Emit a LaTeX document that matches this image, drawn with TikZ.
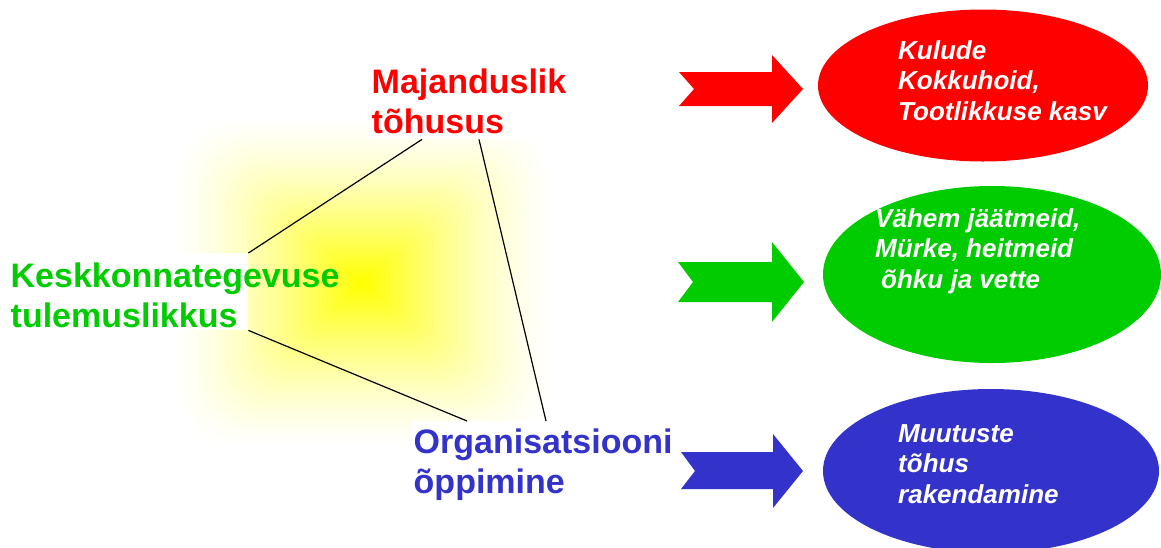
\documentclass[tikz,border=0pt]{standalone}
\usepackage{fontspec}
\setmainfont{Liberation Sans}
\usetikzlibrary{shapes.geometric,calc}
\definecolor{cred}{HTML}{FF0000}
\definecolor{cgreen}{HTML}{00CC00}
\definecolor{cblue}{HTML}{3333CC}
\definecolor{cyel}{HTML}{FFFF00}
\begin{document}
\begin{tikzpicture}[x=1pt,y=-1pt,
  biglabel/.style={anchor=north west, inner sep=0pt, align=left, font=\fontsize{34}{40}\selectfont\bfseries},
  ovaltext/.style={anchor=north west, inner sep=0pt, align=left, text=white, font=\fontsize{26}{30.5}\selectfont\bfseries\itshape},
  oval/.style={ellipse, inner sep=0pt, draw=none},
  mask/.style={fill=white, inner sep=0pt, draw=none, anchor=north west},
  link/.style={draw=black, line width=1.2pt}
]
\useasboundingbox (0,0) rectangle (1161,547);
\fill[white] (0,0) rectangle (1161,547);
% soft yellow glow (rectangular path gradient, drawn outside-in)
\foreach \i in {80,79,...,1}{
  \pgfmathsetmacro\f{\i/80}
  \pgfmathsetmacro\p{100*(1-(\i-0.5)/80)^1.4}
  \pgfmathsetmacro\rc{60*\f+0.01}
  \fill[cyel!\p!white, rounded corners=\rc pt] (363-190*\f,283-166*\f) rectangle (363+190*\f,283+166*\f);
}
% white label backgrounds
\node[mask, minimum width=248pt, minimum height=77pt] (kbox) at (0,253) {};
\node[mask, minimum width=167pt, minimum height=79pt] (mbox) at (370,60) {};
\node[mask, minimum width=268pt, minimum height=84pt] (obox) at (412,421) {};
% triangle links
\draw[link] (kbox.north east) -- ($(mbox.south west)+(52,0)$);
\draw[link] ($(mbox.south west)+(109,0)$) -- ($(obox.north west)+(134,0)$);
\draw[link] (kbox.south east) -- ($(obox.north west)+(55,0)$);
% labels
\node[biglabel, text=cred] (maj) at (371.5,68.4) {Majanduslik\\tõhusus};
\node[biglabel, text=cgreen] (kesk) at (10.5,262.7) {Keskkonnategevuse\\tulemuslikkus};
\node[biglabel, text=cblue] (org) at (413.5,428.7) {Organisatsiooni\\õppimine};
% block arrows
\fill[cred] (679,72) -- (772,72) -- (772,55) -- (803,89) -- (772,123) -- (772,106) -- (679,106) -- (694,89) -- cycle;
\fill[cgreen] (678,262) -- (772,262) -- (772,242) -- (804,282) -- (772,322) -- (772,302) -- (678,302) -- (693,282) -- cycle;
\fill[cblue] (681,452) -- (773,452) -- (773,434) -- (803,471) -- (773,508) -- (773,489) -- (681,489) -- (695,471) -- cycle;
% ovals
\node[oval, fill=cred, minimum width=330pt, minimum height=152pt] (e1) at (983,85.5) {};
\node[oval, fill=cgreen, minimum width=338pt, minimum height=177pt] (e2) at (992,274.5) {};
\node[oval, fill=cblue, minimum width=336pt, minimum height=164pt] (e3) at (991,471) {};
% oval texts
\node[ovaltext] (t1) at (898,40.4) {Kulude\\Kokkuhoid,\\Tootlikkuse kasv};
\node[ovaltext] (t2) at (875,208.4) {Vähem jäätmeid,\\Mürke, heitmeid\\\hspace*{6pt}õhku ja vette};
\node[ovaltext] (t3) at (898,424.4) {Muutuste\\tõhus\\rakendamine};
\end{tikzpicture}
\end{document}
